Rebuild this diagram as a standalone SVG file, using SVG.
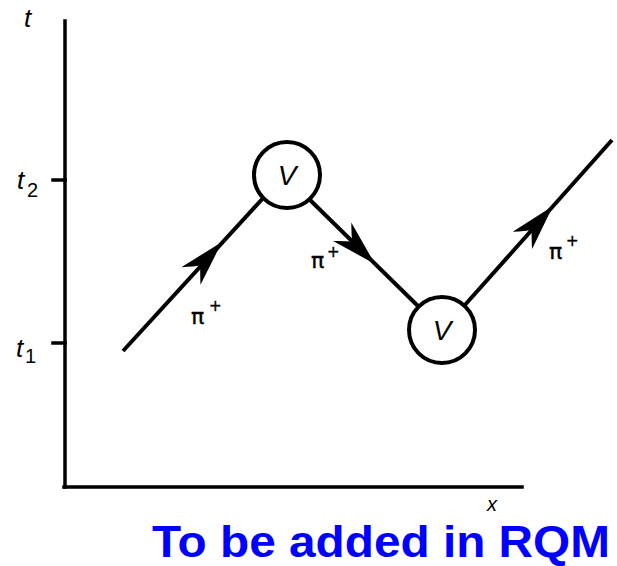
<svg xmlns="http://www.w3.org/2000/svg" width="617" height="566" viewBox="0 0 617 566">
<style>
.ax{stroke:#000;stroke-width:3.5;fill:none;stroke-linecap:square}
.ln{stroke:#000;stroke-width:4;fill:none}
.vx{stroke:#000;stroke-width:4;fill:#fff}
.lab{font-family:"Liberation Sans",Arial,sans-serif;fill:#000}
.it{font-style:italic}
.pi{font-family:"DejaVu Sans",sans-serif;fill:#000;stroke:#000;stroke-width:0.4}
.title{font-family:"Liberation Sans",Arial,sans-serif;font-weight:bold;fill:#0000ff}
</style>
<defs>
<path id="ah" d="M0,0 L-46,-13 Q-37,-4 -32,0 Q-37,4 -46,13 Z" fill="#000"/>
</defs>
<g id="axes">
<line class="ax" x1="65" y1="21" x2="65" y2="487"/>
<line class="ax" x1="64" y1="487" x2="522" y2="487"/>
<line class="ax" x1="53" y1="180" x2="65" y2="180"/>
<line class="ax" x1="53" y1="343" x2="65" y2="343"/>
<text class="lab it" x="24" y="27" font-size="26">t</text>
<text class="lab it" x="17" y="189" font-size="26">t</text>
<text class="lab" x="27" y="197" font-size="20">2</text>
<text class="lab it" x="16" y="357" font-size="26">t</text>
<text class="lab" x="25" y="363" font-size="20">1</text>
<text class="lab it" x="487" y="511" font-size="20">x</text>
</g>
<g id="connectors">
<line class="ln" x1="123" y1="351" x2="265" y2="196"/>
<line class="ln" x1="307" y1="197" x2="420" y2="308"/>
<line class="ln" x1="464" y1="306" x2="612" y2="140"/>
<use href="#ah" transform="translate(222,242) rotate(-47.5)"/>
<use href="#ah" transform="translate(375,264) rotate(44.5)"/>
<use href="#ah" transform="translate(553,206) rotate(-48.3)"/>
<text class="pi" x="191" y="324" font-size="22">π</text>
<text class="pi" x="209" y="311" font-size="15">+</text>
<text class="pi" x="311" y="268" font-size="22">π</text>
<text class="pi" x="327" y="257" font-size="15">+</text>
<text class="pi" x="549" y="259" font-size="22">π</text>
<text class="pi" x="566" y="246" font-size="15">+</text>
</g>
<g id="vertex1">
<circle class="vx" cx="287" cy="175" r="33"/>
<text class="lab it" x="287" y="185" font-size="28" text-anchor="middle">V</text>
</g>
<g id="vertex2">
<circle class="vx" cx="442" cy="330" r="33"/>
<text class="lab it" x="442" y="340" font-size="28" text-anchor="middle">V</text>
</g>
<g id="caption">
<text class="title" x="152" y="557" font-size="44" textLength="458" lengthAdjust="spacingAndGlyphs">To be added in RQM</text>
</g>
</svg>
